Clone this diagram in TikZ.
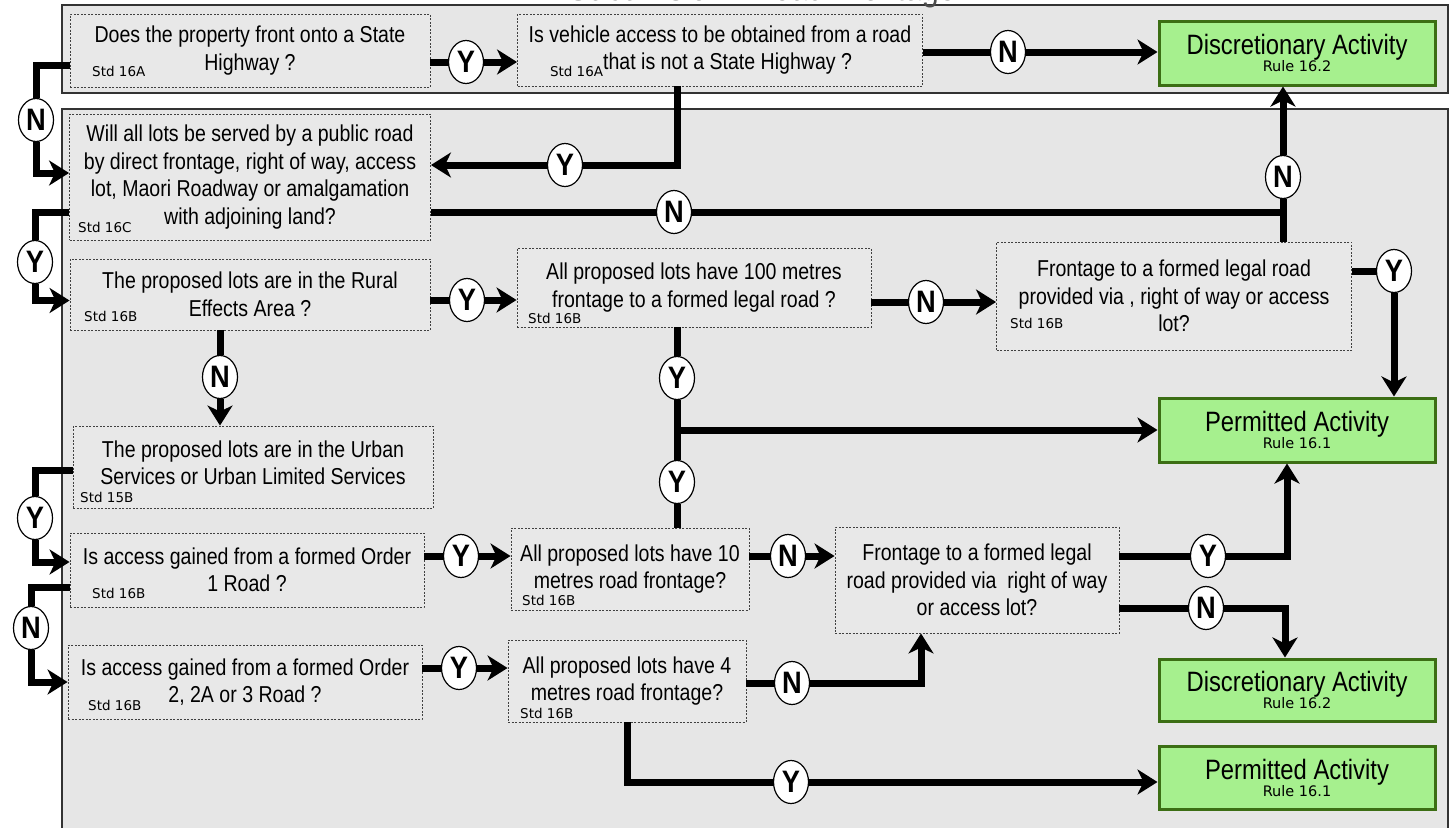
\documentclass[tikz,border=0pt]{standalone}
\usepackage{fontspec}
\setmainfont{Liberation Sans}
\newfontfamily\narrowf[FakeStretch=0.85]{Liberation Sans}
\newfontfamily\ynfont[FakeStretch=0.88]{Liberation Sans}
\newfontfamily\stdfont{DejaVu Sans}
\usetikzlibrary{arrows.meta,shapes.geometric,calc}
\definecolor{panelgray}{HTML}{E6E6E6}
\definecolor{boxgray}{HTML}{E8E8E8}
\definecolor{actgreen}{HTML}{A6F08E}
\definecolor{actborder}{HTML}{3C6E14}
\tikzset{
  qbox/.style={draw=black!75, dash pattern=on 2pt off 1.5pt, line width=0.9pt, fill=boxgray,
    inner sep=0pt, align=center, font=\narrowf\fontsize{23}{27.5}\selectfont},
  actbox/.style={draw=actborder, line width=3pt, fill=actgreen, inner sep=0pt, align=center,
    minimum width=276pt, font=\narrowf\fontsize{28}{15}\selectfont},
  stdlbl/.style={font=\stdfont\fontsize{13.5}{13.5}\selectfont, inner sep=0pt, anchor=west},
  yn/.style={ellipse, draw=black, line width=1.2pt, fill=white, minimum width=35pt,
    minimum height=43pt, inner sep=0pt, font=\ynfont\bfseries\fontsize{31}{31}\selectfont},
  conn/.style={line width=7pt},
  arr/.style={conn, -{Stealth[length=20pt,width=25pt,inset=6pt]}},
}
\newcommand{\rulelbl}[1]{{\stdfont\fontsize{14.5}{14.5}\selectfont #1}}
\begin{document}
\begin{tikzpicture}[x=1pt,y=-1pt]
\useasboundingbox (0,0) rectangle (1453,827);
% panels
\fill[panelgray] (62,5) rectangle (1448,93);
\draw[black!80, line width=1.8pt] (62,5) rectangle (1448,93);
\fill[panelgray] (62,109) rectangle (1448,830);
\draw[black!80, line width=1.8pt] (62,830) -- (62,109) -- (1448,109) -- (1448,830);
% title (cut off at the top)
\node[anchor=base, inner sep=0pt, text=black!70, font=\narrowf\fontsize{36}{36}\selectfont] (title) at (762,1) {Subdivision - Road Frontage};

% question boxes
\node[qbox, minimum width=360pt, minimum height=73pt] (A) at (250,50.5) {Does the property front onto a State\\Highway ?};
\node[stdlbl] (sA) at (92,71) {Std 16A};
\node[qbox, minimum width=405pt, minimum height=72pt] (B) at (720,50) {Is vehicle access to be obtained from a road\\\smash{\raisebox{-7pt}{\stdfont\fontsize{13.5}{13.5}\selectfont Std 16A}}that is not a State Highway ?\hspace*{38pt}};
\node[qbox, minimum width=361pt, minimum height=126pt] (C) at (250,177) {Will all lots be served by a public road\\by direct frontage, right of way, access\\lot, Maori Roadway or amalgamation\\with adjoining land?};
\node[stdlbl] (sC) at (78,227) {Std 16C};
\node[qbox, minimum width=360pt, minimum height=71pt] (D) at (250,294.5) {The proposed lots are in the Rural\\Effects Area ?};
\node[stdlbl] (sD) at (84,316) {Std 16B};
\node[qbox, minimum width=354pt, minimum height=79pt] (E) at (694,287.5) {All proposed lots have 100 metres\\frontage to a formed legal road ?};
\node[stdlbl] (sE) at (528,318) {Std 16B};
\node[qbox, minimum width=355pt, minimum height=108pt] (F) at (1174,296) {Frontage to a formed legal road\\provided via , right of way or access\\lot?};
\node[stdlbl] (sF) at (1010,323) {Std 16B};
\node[qbox, minimum width=360pt, minimum height=82pt] (G) at (253,467) {The proposed lots are in the Urban\\Services or Urban Limited Services\\[-19pt]\mbox{}};
\node[stdlbl] (sG) at (80,497) {Std 15B};
\node[qbox, minimum width=354pt, minimum height=74pt] (H) at (247,570) {Is access gained from a formed Order\\1 Road ?};
\node[stdlbl] (sH) at (92,593) {Std 16B};
\node[qbox, minimum width=238pt, minimum height=82pt] (I) at (630,569) {All proposed lots have 10\\metres road frontage?};
\node[stdlbl] (sI) at (522,600) {Std 16B};
\node[qbox, minimum width=284pt, minimum height=106pt] (J) at (977,580) {Frontage to a formed legal\\road provided via~ right of way\\or access lot?};
\node[qbox, minimum width=354pt, minimum height=74pt] (K) at (245,682) {Is access gained from a formed Order\\2, 2A or 3 Road ?};
\node[stdlbl] (sK) at (88,705) {Std 16B};
\node[qbox, minimum width=238pt, minimum height=82pt] (L) at (627,681) {All proposed lots have 4\\metres road frontage?};
\node[stdlbl] (sL) at (520,713) {Std 16B};

% activity boxes
\node[actbox, minimum height=64pt] (DA1) at (1297,53) {Discretionary Activity\\\rulelbl{Rule 16.2}};
\node[actbox, minimum height=64pt] (PA1) at (1297,430) {Permitted Activity\\\rulelbl{Rule 16.1}};
\node[actbox, minimum height=62pt] (DA2) at (1297,690) {Discretionary Activity\\\rulelbl{Rule 16.2}};
\node[actbox, minimum height=63pt] (PA2) at (1297,778) {Permitted Activity\\\rulelbl{Rule 16.1}};

% Y / N labels
\node[yn] (yAB) at (466,62) {Y};
\node[yn] (nBD) at (1008,52) {N};
\node[yn] (nAC) at (36,120) {N};
\node[yn] (yBC) at (565,165) {Y};
\node[yn] (nC)  at (674,212) {N};
\node[yn] (nFD) at (1283,177) {N};
\node[yn] (yCD) at (35,262) {Y};
\node[yn] (yDE) at (467,300) {Y};
\node[yn] (nDG) at (220,377) {N};
\node[yn] (nEF) at (926,302) {N};
\node[yn] (yFP) at (1394,271) {Y};
\node[yn] (yE1) at (677,378) {Y};
\node[yn] (yE2) at (677,482) {Y};
\node[yn] (yGH) at (35,518) {Y};
\node[yn] (yHI) at (461,556) {Y};
\node[yn] (nHK) at (31,628) {N};
\node[yn] (yKL) at (459,668) {Y};
\node[yn] (nIJ) at (788,556) {N};
\node[yn] (nLJ) at (792,683) {N};
\node[yn] (yJP) at (1208,556) {Y};
\node[yn] (nJD) at (1206,608) {N};
\node[yn] (yLP) at (791,782) {Y};

% connectors
\draw[conn] (yAB) -- (yAB -| A.east);
\draw[arr] (yAB) -- (yAB -| B.west);
\draw[conn] (nBD) -- (nBD -| B.east);
\draw[arr] (nBD) -- (nBD -| DA1.west);
\draw[conn] ([yshift=-15pt]A.west) -| (nAC);
\draw[arr] (nAC) |- ([yshift=4pt]C.west);
\draw[conn] ([xshift=-43pt]B.south) |- (yBC);
\draw[arr] (yBC) -- (yBC -| C.east);
\draw[conn] (nC) -- (nC -| C.east);
\draw[conn] (nC) -- (nC -| nFD);
\draw[conn] (nFD |- F.north) -- (nFD);
\draw[arr] (nFD) -- (nFD |- DA1.south);
\draw[conn] ([yshift=-35pt]C.west) -| (yCD);
\draw[arr] (yCD) |- ([yshift=-6pt]D.west);
\draw[conn] (yDE) -- (yDE -| D.east);
\draw[arr] (yDE) -- (yDE -| E.west);
\draw[conn] (nDG |- D.south) -- (nDG);
\draw[arr] (nDG) -- (nDG |- G.north);
\draw[conn] (nEF) -- (nEF -| E.east);
\draw[arr] (nEF) -- (nEF -| F.west);
\draw[conn] (yFP) -- (yFP -| F.east);
\draw[arr] (yFP) -- (yFP |- PA1.north);
\draw[conn] (yE1 |- E.south) -- (yE1);
\draw[conn] (yE1) -- (yE2);
\draw[conn] (yE2) -- (yE2 |- I.north);
\draw[arr] (yE1 |- PA1.west) -- (PA1.west);
\draw[conn] ([yshift=-3pt]G.west) -| (yGH);
\draw[arr] (yGH) |- ([yshift=8pt]H.west);
\draw[conn] (yHI) -- (yHI -| H.east);
\draw[arr] (yHI) -- (yHI -| I.west);
\draw[conn] ([yshift=-17pt]H.west) -| (nHK);
\draw[arr] (nHK) |- (K.west);
\draw[conn] (yKL) -- (yKL -| K.east);
\draw[arr] (yKL) -- (yKL -| L.west);
\draw[conn] (nIJ) -- (nIJ -| I.east);
\draw[arr] (nIJ) -- (nIJ -| J.west);
\draw[conn] (nLJ) -- (nLJ -| L.east);
\draw[arr] (nLJ) -| ([xshift=-56pt]J.south);
\draw[conn] (yJP) -- (yJP -| J.east);
\draw[arr] (yJP) -| ([xshift=-10pt]PA1.south);
\draw[conn] (nJD) -- (nJD -| J.east);
\draw[arr] (nJD) -| ([xshift=-12pt]DA2.north);
\draw[conn] (L.south) |- (yLP);
\draw[arr] (yLP) -- (yLP -| PA2.west);
\end{tikzpicture}
\end{document}
